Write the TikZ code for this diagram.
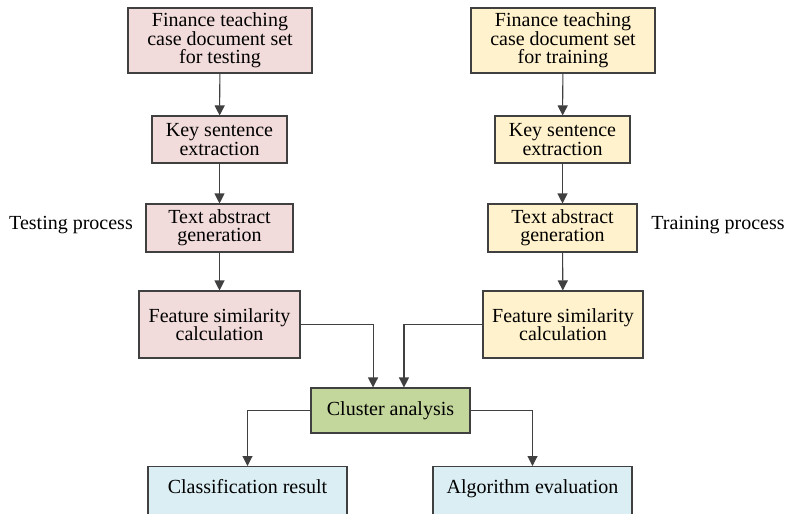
\documentclass[tikz,border=0pt]{standalone}
\usepackage{fontspec}
\setmainfont{Liberation Serif}
\usetikzlibrary{arrows.meta}
\definecolor{testpink}{RGB}{242,220,219}
\definecolor{trainyellow}{RGB}{255,242,204}
\definecolor{clustergreen}{RGB}{195,214,155}
\definecolor{resultblue}{RGB}{219,238,244}
\definecolor{boxline}{RGB}{64,64,64}
\begin{document}
\begin{tikzpicture}[x=0.75pt,y=0.75pt,yscale=-1,xscale=1,
  box/.style={draw=boxline, line width=0.8pt, align=center, inner sep=0pt,
    font=\rmfamily\fontsize{15}{13.8}\selectfont},
  resbox/.style={box, fill=resultblue, minimum width=149.25pt, anchor=north,
    text height=20pt, text depth=20pt},
  flow/.style={draw=boxline, line width=0.8pt, -{Triangle[length=7.5pt,width=7.5pt]}},
  lbl/.style={inner sep=0pt, font=\rmfamily\fontsize{15}{13.8}\selectfont}]
    \clip (0,0) rectangle (787,513);

    % Testing side
    \node [box, fill=testpink, minimum width=138pt, minimum height=48.75pt] (tset) at (220,40.5) {Finance teaching\\case document set\\for testing};
    \node [box, fill=testpink, minimum width=101.25pt, minimum height=35.25pt] (tkey) at (219.5,139.5) {Key sentence\\extraction};
    \node [box, fill=testpink, minimum width=110.25pt, minimum height=36pt] (tabs) at (219.5,228) {Text abstract\\generation};
    \node [box, fill=testpink, minimum width=120.75pt, minimum height=50.25pt] (tfeat) at (219.5,324.5) {Feature similarity\\calculation};

    % Training side
    \node [box, fill=trainyellow, minimum width=138pt, minimum height=48.75pt] (rset) at (563,40.5) {Finance teaching\\case document set\\for training};
    \node [box, fill=trainyellow, minimum width=101.25pt, minimum height=35.25pt] (rkey) at (562.5,139.5) {Key sentence\\extraction};
    \node [box, fill=trainyellow, minimum width=111.75pt, minimum height=36pt] (rabs) at (562.5,228) {Text abstract\\generation};
    \node [box, fill=trainyellow, minimum width=120pt, minimum height=50.25pt] (rfeat) at (563,324.5) {Feature similarity\\calculation};

    % Cluster and results
    \node [box, fill=clustergreen, minimum width=119.25pt, minimum height=33.75pt] (cluster) at (390.5,410.5) {Cluster analysis};
    \node [resbox] (cres) at (247.5,466) {Classification result};
    \node [resbox] (aeval) at (532.5,466) {Algorithm evaluation};

    % Side labels
    \node [lbl] (tlabel) at (71,225) {Testing process};
    \node [lbl] (rlabel) at (718,225) {Training process};

    % Arrows
    \draw [flow] (tset) -- (tkey);
    \draw [flow] (tkey) -- (tabs);
    \draw [flow] (tabs) -- (tfeat);
    \draw [flow] (rset) -- (rkey);
    \draw [flow] (rkey) -- (rabs);
    \draw [flow] (rabs) -- (rfeat);
    \draw [flow] (tfeat.east) -| ([xshift=-13.1pt]cluster.north);
    \draw [flow] (rfeat.west) -| ([xshift=10.1pt]cluster.north);
    \draw [flow] (cluster.west) -| (cres.north);
    \draw [flow] (cluster.east) -| (aeval.north);
\end{tikzpicture}
\end{document}
